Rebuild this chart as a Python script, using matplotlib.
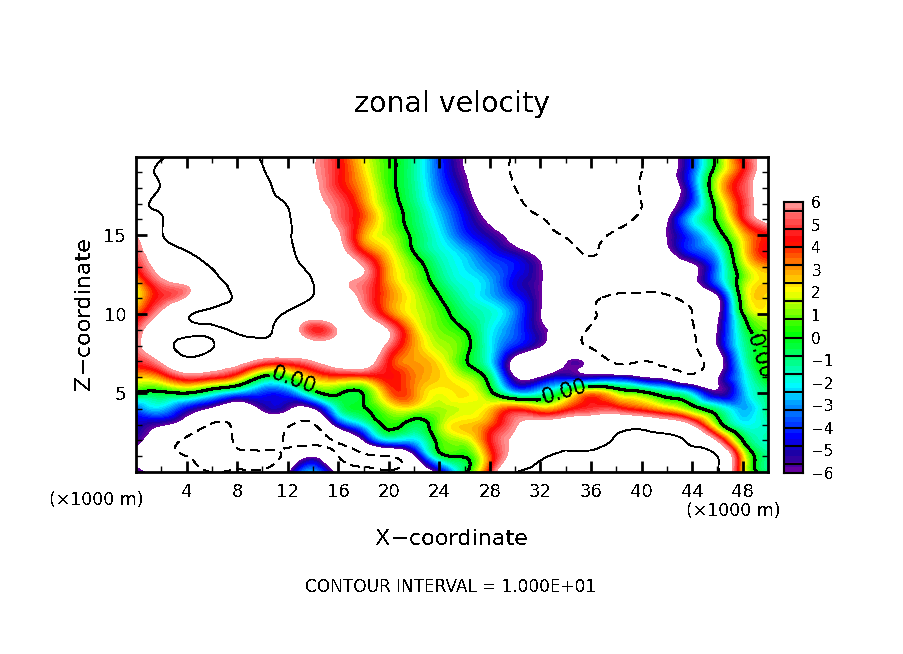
import numpy as np
import matplotlib
matplotlib.use("Agg")
import matplotlib.pyplot as plt
import matplotlib.tri as mtri
from matplotlib.colors import LinearSegmentedColormap

plt.rcParams["text.antialiased"] = False

W, H = 904, 654

# grid the field was read on (x in km, z in km)
x_km = [0, 2, 4, 6, 8, 10, 12, 14, 16, 18, 20, 22, 24, 26, 28, 30, 32, 34, 36, 38, 40, 42, 44, 46, 48, 50]
z_km = [0, 1, 2, 3, 4, 5, 6, 7, 8, 9, 10, 11, 12, 13, 14, 15, 16, 17, 18, 19, 20]

# zonal velocity, one list per height
u20 = [9, 9.8, 11, 12, 11, 9.8, 8, 6.2, 4.4, 2.1, 0.3, -1.3, -4, -6.2, -8, -10.5, -11.5, -12, -12, -11.5, -10.1, -7.5, -4, 0.6, 4.6, 7]
u19 = [9.2, 10.3, 11.5, 12.5, 11.5, 10.2, 8, 6.2, 4.5, 2.4, 0.4, -1.3, -3.8, -6, -8, -10.5, -12, -12.5, -12.5, -12, -10, -7.2, -3.8, 1, 4.3, 8]
u18 = [9.3, 10.1, 12, 13, 12, 10.8, 8.5, 6.5, 4.6, 2.8, 0.5, -1.2, -3.5, -5.6, -8, -10, -12.5, -13.5, -13, -11.5, -9.8, -7.5, -4, 1.8, 5, 8]
u17 = [9.5, 10.6, 12.5, 13.5, 13, 11.3, 9.8, 7, 5.3, 3.2, 0.8, -1, -3, -5, -7.5, -9.2, -12, -14, -13.5, -11.5, -10, -7.2, -4, 0.8, 4.6, 8]
u16 = [9.5, 9.8, 13, 14, 14, 12, 10.2, 8, 5.5, 3.6, 1.2, -0.7, -2.5, -4.5, -6.5, -8.2, -9.7, -12, -13, -11.5, -9.3, -6.3, -2.3, 0.3, 4.2, 7]
u15 = [6.2, 9.7, 13.5, 15, 15, 13, 10.4, 8, 6.3, 3, 1.5, -0.4, -2.1, -4, -5.3, -7, -9, -10.2, -11, -9.3, -8, -6, -3.6, -0.9, 2.5, 4.3]
u14 = [5.2, 8, 10, 13, 15, 14, 11, 8, 6.8, 4, 2.2, -0.1, -1.7, -2.8, -4.3, -5.5, -7, -9, -10.2, -9, -8, -6.5, -4, -2.3, 2, 4.5]
u13 = [4.3, 7, 8.7, 10.2, 14, 15, 12, 9, 7.5, 6, 2.8, 0.9, -1.2, -2.3, -3.4, -4.3, -5.9, -8, -9, -8.5, -8, -7.5, -6.5, -3.2, 1.2, 3]
u12 = [2.5, 5.5, 6.5, 8.5, 12, 16, 13, 10, 6.7, 5.5, 3, 1.3, -0.7, -1.9, -2.8, -4.7, -5.9, -8, -8, -8, -7.6, -7, -6.5, -3.4, 1, 2.5]
u11 = [2, 4.7, 6.3, 8.8, 10.5, 13, 12, 9.8, 7.8, 5.5, 3.3, 1.8, 0.1, -1.5, -2.6, -4, -5.9, -8, -9.5, -10.8, -11.5, -11, -9, -6.5, 0.8, 2.2]
u10 = [3.5, 6.5, 9.6, 10.5, 11, 11, 9.5, 7.5, 8, 6.5, 3.6, 1.9, 0.7, -0.9, -1.7, -3.3, -6, -8, -9.7, -11, -12, -12, -10, -6.5, 0, 1.8]
u9 = [5, 8, 9.4, 9.7, 10.3, 10.6, 8, 4.6, 6.2, 8, 6, 2.7, 1, 0, -2, -3.6, -5.6, -7.5, -10.5, -11.5, -12, -12, -10.3, -6, -1, 1]
u8 = [5.5, 8.5, 11, 10.2, 9, 9, 8.5, 7, 7.5, 8, 5.5, 3, 1.5, 0.5, -2.1, -4.2, -5.9, -8, -10.5, -12, -12.5, -12, -10.5, -6, -1.5, 0.5]
u7 = [4.7, 6.3, 9, 8, 7, 5.3, 5, 6, 7.5, 7.5, 4.3, 3, 2.2, 0.2, -2.2, -7, -8.5, -6.2, -7, -10.5, -10, -11, -11, -7.5, -2, 0.6]
u6 = [2.5, 3.2, 5, 4.5, 3, -0.3, 0.2, 2.7, 3.5, 3.5, 4.3, 3.3, 2.5, 1.5, -0.8, -6, -6, -4.8, -5.2, -5, -6, -7, -9, -6.3, -2.5, 0.2]
u5 = [-0.1, -0.3, 0, -1.5, -3, -4, -3.8, -0.8, 0.2, 0.1, 3.3, 3.2, 2, 2.3, 0.5, -2.5, -2, 0.5, 3, 1.5, 0.5, -1, -2.7, -5.6, -3, -1]
u4 = [-3.7, -2.6, -4.7, -6.5, -8, -5.7, -5.8, -6.2, -1.5, -0.1, 1.5, 1.8, 1.4, 1.8, 2.5, 3.9, 2.8, 3.8, 4.8, 4.7, 3.7, 2.5, 0.8, -1.2, -2.8, -1]
u3 = [-4.8, -5.8, -7.5, -10.2, -9.5, -8, -9.5, -10.3, -5, -2.2, 0.4, -0.6, 1.2, 2.5, 3.5, 5.8, 7, 8, 8.5, 9, 9, 8, 6, 1, -2, -1.5]
u2 = [-5.5, -8, -10.5, -11, -9.5, -8, -10.5, -11, -9.5, -6, -2.5, -2.5, 0.5, 1.5, 4.3, 6.3, 8, 9.5, 9, 10.3, 10.8, 10.7, 9.5, 5.8, 0, -1.5]
u1 = [-6.5, -9, -10, -11, -10.5, -11, -9, -6.3, -10, -10.5, -10, -6.5, -0.8, 0.1, 3.5, 7, 9.5, 10.5, 11, 12, 12, 12, 11, 10, 2.5, -1.2]
u0 = [-5.5, -7, -9, -10, -9.8, -9.5, -6.5, -2.8, -7, -9, -9.5, -8, -5.5, -0.5, 4.5, 9.8, 11, 12, 11.5, 12, 12, 12, 12, 10.5, 2.7, -1]

x_ticks = [4, 8, 12, 16, 20, 24, 28, 32, 36, 40, 44, 48]
z_ticks = [5, 10, 15]
bar_ticks = [-6, -5, -4, -3, -2, -1, 0, 1, 2, 3, 4, 5, 6]

u = np.array([u0, u1, u2, u3, u4, u5, u6, u7, u8, u9, u10, u11, u12, u13, u14,
              u15, u16, u17, u18, u19, u20])

# colour table, from the colour bar
stops = [(-6, "#6e00a0"), (-5.2, "#1e00a0"), (-4.4, "#0000ff"), (-3.2, "#0080ff"),
         (-2.1, "#00ffff"), (-1, "#00ff80"), (0.2, "#00ff00"), (2.1, "#ffff00"),
         (3.3, "#ff8000"), (4.3, "#ff0000"), (5.2, "#ff5050"), (6, "#ff9a9a")]
cmap = LinearSegmentedColormap.from_list(
    "zonal", [((v + 6) / 12, c) for v, c in stops], N=256)
levels = np.linspace(-6, 6, 49)


def box(left, top, right, bottom):
    return [left / W, 1 - bottom / H, (right - left) / W, (bottom - top) / H]


# smooth curves through the read grid, matplotlib's own cubic refiner
X, Z = np.meshgrid(x_km, z_km)
tri = mtri.Triangulation(X.ravel(), Z.ravel())
fine_tri, fine_u = mtri.UniformTriRefiner(tri).refine_field(u.ravel(), subdiv=3)

fig = plt.figure(figsize=(W / 100, H / 100), dpi=100, facecolor="white")

# ---- main panel ----
ax = fig.add_axes(box(136, 157, 768, 472))
ax.tricontourf(fine_tri, fine_u, levels=levels, cmap=cmap, vmin=-6, vmax=6, antialiased=False)
ax.tricontour(fine_tri, fine_u, levels=[10], colors="black", linewidths=0.6, antialiased=False)
ax.tricontour(fine_tri, fine_u, levels=[-10], colors="black", linewidths=0.6,
              linestyles=[(0, (10, 8))], antialiased=False)
zero = ax.tricontour(fine_tri, fine_u, levels=[0], colors="black", linewidths=1.5, antialiased=False)
ax.clabel(zero, fmt="%.2f", fontsize=15, inline=True, inline_spacing=2,
          manual=[(12.5, 5.9), (34.0, 4.9), (49.2, 7.3)])

ax.set_xlim(0, 50)
ax.set_ylim(0, 19.95)
ax.set_xticks(x_ticks)
ax.set_xticks(np.arange(2, 50, 4), minor=True)
ax.set_yticks(z_ticks)
ax.set_yticks(np.arange(1, 20), minor=True)
ax.tick_params(which="major", direction="in", top=True, right=True, length=8, width=2,
               labelsize=13, pad=8)
ax.tick_params(which="minor", direction="in", top=True, right=True, length=4, width=1)
ax.tick_params(axis="y", which="major", pad=7)
for s in ax.spines.values():
    s.set_linewidth(2)

# ---- colour bar ----
cax = fig.add_axes(box(784, 202, 803, 473))
bar_vals = np.linspace(-6, 6, 49)
cax.pcolormesh([0, 1], bar_vals, ((bar_vals[:-1] + bar_vals[1:]) / 2).reshape(-1, 1),
               cmap=cmap, vmin=-6, vmax=6)
for b in np.arange(-5.6, 5.7, 0.8):
    cax.axhline(b, color="black", lw=1.5)
cax.set_ylim(-6, 6)
cax.set_xticks([])
cax.yaxis.tick_right()
cax.set_yticks(bar_ticks)
cax.tick_params(axis="y", length=0, labelsize=11, pad=6)
for s in cax.spines.values():
    s.set_linewidth(1.5)


# ---- text ----
def label(px, py, txt, size, **kw):
    fig.text(px / W, 1 - py / H, txt, fontsize=size, ha="center", va="center", **kw)


label(452, 104, "zonal velocity", 20.5)
label(452, 539, "X\u2212coordinate", 16)
label(84, 314, "Z\u2212coordinate", 16, rotation=90)
label(96, 500, "(\u00d71000 m)", 12.5)
label(733, 511, "(\u00d71000 m)", 12.5)
label(451, 587, "CONTOUR INTERVAL = 1.000E+01", 12.2)

fig.savefig("out.png", dpi=100, facecolor="white")
